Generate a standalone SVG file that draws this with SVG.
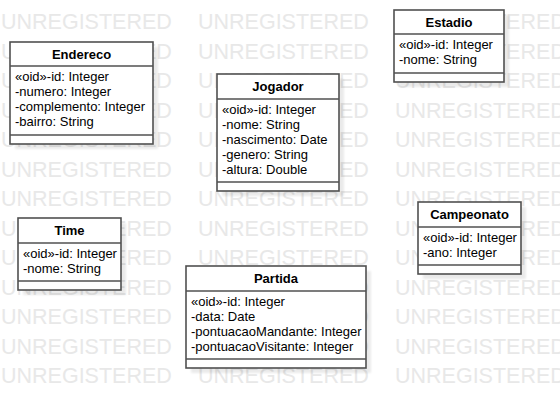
<svg xmlns="http://www.w3.org/2000/svg" width="560" height="408" viewBox="0 0 560 408">
<style>
.wm{font-family:"Liberation Sans",Arial,sans-serif;font-size:21.5px;fill:#e8e8e8}
.box{fill:#fff;stroke:#505050;stroke-width:1.6}
.sh{fill:#000;opacity:.08;filter:url(#blur)}
.div{stroke:#505050;stroke-width:1.6}
.nm{font-family:"Liberation Sans",Arial,sans-serif;font-size:13px;font-weight:bold;text-anchor:middle;fill:#000}
.at{font-family:"Liberation Sans",Arial,sans-serif;font-size:13px;fill:#000}
</style>
<defs>
<filter id="blur" x="-10%" y="-10%" width="120%" height="120%"><feGaussianBlur stdDeviation="1"/></filter>
</defs>
<rect width="560" height="408" fill="#fff"/>
<g id="watermark">
<g transform="translate(0,29)">
<text class="wm" x="1" y="0">UNREGISTERED</text><text class="wm" x="198" y="0">UNREGISTERED</text><text class="wm" x="395" y="0">UNREGISTERED</text>
<text class="wm" x="1" y="29.5">UNREGISTERED</text><text class="wm" x="198" y="29.5">UNREGISTERED</text><text class="wm" x="395" y="29.5">UNREGISTERED</text>
<text class="wm" x="1" y="59">UNREGISTERED</text><text class="wm" x="198" y="59">UNREGISTERED</text><text class="wm" x="395" y="59">UNREGISTERED</text>
<text class="wm" x="1" y="88.5">UNREGISTERED</text><text class="wm" x="198" y="88.5">UNREGISTERED</text><text class="wm" x="395" y="88.5">UNREGISTERED</text>
<text class="wm" x="1" y="118">UNREGISTERED</text><text class="wm" x="198" y="118">UNREGISTERED</text><text class="wm" x="395" y="118">UNREGISTERED</text>
<text class="wm" x="1" y="147.5">UNREGISTERED</text><text class="wm" x="198" y="147.5">UNREGISTERED</text><text class="wm" x="395" y="147.5">UNREGISTERED</text>
<text class="wm" x="1" y="177">UNREGISTERED</text><text class="wm" x="198" y="177">UNREGISTERED</text><text class="wm" x="395" y="177">UNREGISTERED</text>
<text class="wm" x="1" y="206.5">UNREGISTERED</text><text class="wm" x="198" y="206.5">UNREGISTERED</text><text class="wm" x="395" y="206.5">UNREGISTERED</text>
<text class="wm" x="1" y="236">UNREGISTERED</text><text class="wm" x="198" y="236">UNREGISTERED</text><text class="wm" x="395" y="236">UNREGISTERED</text>
<text class="wm" x="1" y="265.5">UNREGISTERED</text><text class="wm" x="198" y="265.5">UNREGISTERED</text><text class="wm" x="395" y="265.5">UNREGISTERED</text>
<text class="wm" x="1" y="295">UNREGISTERED</text><text class="wm" x="198" y="295">UNREGISTERED</text><text class="wm" x="395" y="295">UNREGISTERED</text>
<text class="wm" x="1" y="324.5">UNREGISTERED</text><text class="wm" x="198" y="324.5">UNREGISTERED</text><text class="wm" x="395" y="324.5">UNREGISTERED</text>
<text class="wm" x="1" y="354">UNREGISTERED</text><text class="wm" x="198" y="354">UNREGISTERED</text><text class="wm" x="395" y="354">UNREGISTERED</text>
</g>
</g>
<g id="connectors"></g>
<g id="node-Endereco">
<rect class="sh" x="15" y="47" width="143" height="102"/>
<rect class="box" x="10" y="42" width="143" height="102"/>
<line class="div" x1="10" y1="66" x2="153" y2="66"/>
<line class="div" x1="10" y1="135" x2="153" y2="135"/>
<text class="nm" x="81.5" y="59">Endereco</text>
<text class="at" x="15" y="81">«oid»-id: Integer</text>
<text class="at" x="15" y="96">-numero: Integer</text>
<text class="at" x="15" y="111">-complemento: Integer</text>
<text class="at" x="15" y="126">-bairro: String</text>
</g>
<g id="node-Jogador">
<rect class="sh" x="222" y="79" width="122" height="117"/>
<rect class="box" x="217" y="74" width="122" height="117"/>
<line class="div" x1="217" y1="99" x2="339" y2="99"/>
<line class="div" x1="217" y1="182" x2="339" y2="182"/>
<text class="nm" x="278" y="91">Jogador</text>
<text class="at" x="222" y="114">«oid»-id: Integer</text>
<text class="at" x="222" y="129">-nome: String</text>
<text class="at" x="222" y="144">-nascimento: Date</text>
<text class="at" x="222" y="159">-genero: String</text>
<text class="at" x="222" y="174">-altura: Double</text>
</g>
<g id="node-Estadio">
<rect class="sh" x="399" y="15" width="110" height="72"/>
<rect class="box" x="394" y="10" width="110" height="72"/>
<line class="div" x1="394" y1="34" x2="504" y2="34"/>
<line class="div" x1="394" y1="73" x2="504" y2="73"/>
<text class="nm" x="449" y="27">Estadio</text>
<text class="at" x="399" y="49">«oid»-id: Integer</text>
<text class="at" x="399" y="64">-nome: String</text>
</g>
<g id="node-Time">
<rect class="sh" x="23" y="223" width="103" height="72"/>
<rect class="box" x="18" y="218" width="103" height="72"/>
<line class="div" x1="18" y1="243" x2="121" y2="243"/>
<line class="div" x1="18" y1="281" x2="121" y2="281"/>
<text class="nm" x="69.5" y="235">Time</text>
<text class="at" x="23" y="258">«oid»-id: Integer</text>
<text class="at" x="23" y="273">-nome: String</text>
</g>
<g id="node-Partida">
<rect class="sh" x="191" y="271" width="180" height="102"/>
<rect class="box" x="186" y="266" width="180" height="102"/>
<line class="div" x1="186" y1="291" x2="366" y2="291"/>
<line class="div" x1="186" y1="359" x2="366" y2="359"/>
<text class="nm" x="276" y="283">Partida</text>
<text class="at" x="191" y="306">«oid»-id: Integer</text>
<text class="at" x="191" y="321">-data: Date</text>
<text class="at" x="191" y="336">-pontuacaoMandante: Integer</text>
<text class="at" x="191" y="351">-pontuacaoVisitante: Integer</text>
</g>
<g id="node-Campeonato">
<rect class="sh" x="423" y="207" width="103" height="72"/>
<rect class="box" x="418" y="202" width="103" height="72"/>
<line class="div" x1="418" y1="227" x2="521" y2="227"/>
<line class="div" x1="418" y1="265" x2="521" y2="265"/>
<text class="nm" x="469.5" y="219">Campeonato</text>
<text class="at" x="423" y="242">«oid»-id: Integer</text>
<text class="at" x="423" y="257">-ano: Integer</text>
</g>
</svg>
